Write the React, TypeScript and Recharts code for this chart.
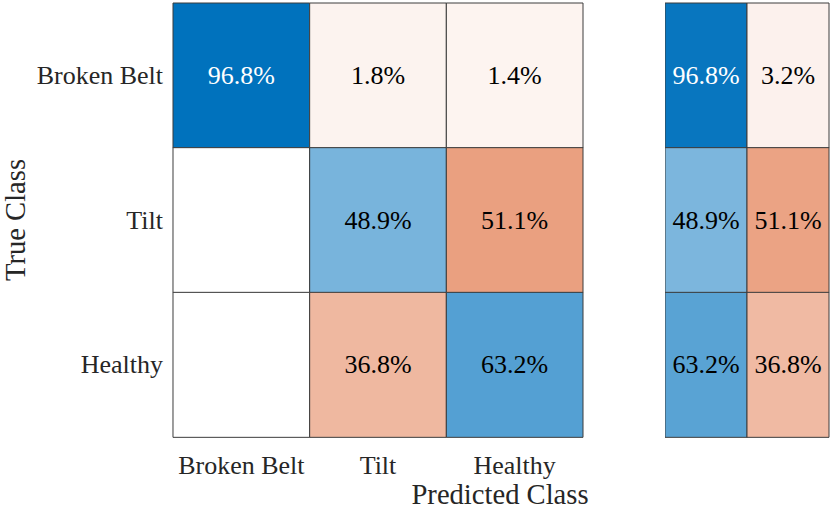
import React from 'react'
import { BarChart, Bar, Cell, XAxis, YAxis, LabelList } from 'recharts'

// ─── Data ────────────────────────────────────────────────────────

const CLASSES = ['Broken Belt', 'Tilt', 'Healthy']

// row-normalized confusion matrix, % (rows = true class, cols = predicted)
const ROW_BROKEN = [96.8, 1.8, 1.4]
const ROW_TILT = [0, 48.9, 51.1]
const ROW_HEALTHY = [0, 36.8, 63.2]

// row summary: correct / incorrect, %
const SUMMARY_CORRECT = [96.8, 48.9, 63.2]
const SUMMARY_WRONG = [3.2, 51.1, 36.8]

// ─── Styling ─────────────────────────────────────────────────────

const FONT = '"Liberation Serif", "Times New Roman", "DejaVu Serif", serif'
const TEXT = '#262626'
const EDGE = '#3c3c3c'
const BLUE = [0, 114, 189]
const ORANGE = [217, 83, 25]

function blend(base: number[], f: number) {
  const c = base.map((v) => Math.round(255 - (255 - v) * f))
  return `rgb(${c[0]},${c[1]},${c[2]})`
}

function cellColor(value: number, diagonal: boolean, max: number) {
  if (value <= 0) return '#ffffff'
  const f = Math.min(1, 0.05 + 0.95 * (value / max))
  return blend(diagonal ? BLUE : ORANGE, f)
}

const ROWS = [ROW_BROKEN, ROW_TILT, ROW_HEALTHY]
const MATRIX_MAX = Math.max(...ROWS.flat())

const matrixData = CLASSES.map((name, i) => ({
  name,
  u0: 1, u1: 1, u2: 1,
  p0: ROWS[i][0], p1: ROWS[i][1], p2: ROWS[i][2],
}))

const summaryData = CLASSES.map((name, i) => ({
  name,
  u0: 1, u1: 1,
  p0: SUMMARY_CORRECT[i], p1: SUMMARY_WRONG[i],
}))

// ─── Custom text pieces ──────────────────────────────────────────

function makeLabel(max: number) {
  return (props: any) => {
    const { x, y, width, height, value } = props
    if (!value) return null
    const dark = value / max > 0.75
    return (
      <text
        x={x + width / 2}
        y={y + height / 2}
        textAnchor="middle"
        dominantBaseline="central"
        style={{ fontFamily: FONT, fontSize: 26, fill: dark ? '#ffffff' : '#000000' }}
      >
        {`${value.toFixed(1)}%`}
      </text>
    )
  }
}

function XTick({ x, y, payload }: any) {
  return (
    <text x={x} y={y} dy={18.5} textAnchor="middle" style={{ fontFamily: FONT, fontSize: 26, fill: TEXT }}>
      {CLASSES[Math.floor(payload.value)]}
    </text>
  )
}

function YTick({ x, y, payload }: any) {
  return (
    <text x={x} y={y} textAnchor="end" dominantBaseline="central" style={{ fontFamily: FONT, fontSize: 26, fill: TEXT }}>
      {payload.value}
    </text>
  )
}

// ─── Main ────────────────────────────────────────────────────────

export default function App() {
  return (
    <div style={{ position: 'absolute', left: 0, top: 0, width: 830, height: 510, background: '#fff' }}>
      {/* Confusion matrix */}
      <div style={{ position: 'absolute', left: 0, top: 0 }}>
        <BarChart
          width={600}
          height={510}
          data={matrixData}
          layout="vertical"
          barCategoryGap={0}
          margin={{ top: 3, right: 17, left: 0, bottom: 0 }}
        >
          <XAxis
            type="number"
            domain={[0, 3]}
            ticks={[0.5, 1.5, 2.5]}
            axisLine={false}
            tickLine={false}
            tickSize={0}
            tickMargin={18}
            height={73}
            tick={<XTick />}
            interval={0}
          />
          <YAxis
            type="category"
            dataKey="name"
            width={173}
            axisLine={false}
            tickLine={false}
            tickSize={0}
            tickMargin={10}
            tick={<YTick />}
            label={{
              content: (p: any) => {
                const vb = p.viewBox
                const cx = 25
                const cy = vb.y + vb.height / 2
                return (
                  <text
                    x={cx}
                    y={cy}
                    transform={`rotate(-90, ${cx}, ${cy})`}
                    textAnchor="middle"
                    style={{ fontFamily: FONT, fontSize: 28.6, fill: TEXT }}
                  >
                    True Class
                  </text>
                )
              },
            }}
          />
          {[0, 1, 2].map((j) => (
            <Bar
              key={j}
              dataKey={`u${j}`}
              stackId="m"
              stroke={EDGE}
              strokeWidth={1}
              isAnimationActive={false}
            >
              {matrixData.map((row: any, i) => (
                <Cell key={i} fill={cellColor(row[`p${j}`], i === j, MATRIX_MAX)} />
              ))}
              <LabelList dataKey={`p${j}`} content={makeLabel(MATRIX_MAX)} />
            </Bar>
          ))}
        </BarChart>
      </div>

      {/* Row summary */}
      <div style={{ position: 'absolute', left: 665, top: 0 }}>
        <BarChart
          width={165}
          height={510}
          data={summaryData}
          layout="vertical"
          barCategoryGap={0}
          margin={{ top: 3, right: 1, left: 0, bottom: 73 }}
        >
          <XAxis type="number" domain={[0, 2]} hide />
          <YAxis type="category" dataKey="name" hide />
          {[0, 1].map((j) => (
            <Bar
              key={j}
              dataKey={`u${j}`}
              stackId="s"
              stroke={EDGE}
              strokeWidth={1}
              isAnimationActive={false}
            >
              {summaryData.map((row: any, i) => (
                <Cell key={i} fill={cellColor(row[`p${j}`], j === 0, 100)} />
              ))}
              <LabelList dataKey={`p${j}`} content={makeLabel(100)} />
            </Bar>
          ))}
        </BarChart>
      </div>

      {/* Shared x-axis title */}
      <div
        style={{
          position: 'absolute',
          left: 300,
          width: 400,
          top: 478,
          textAlign: 'center',
          fontFamily: FONT,
          fontSize: 28.6,
          lineHeight: '34px',
          color: TEXT,
        }}
      >
        Predicted Class
      </div>
    </div>
  )
}
